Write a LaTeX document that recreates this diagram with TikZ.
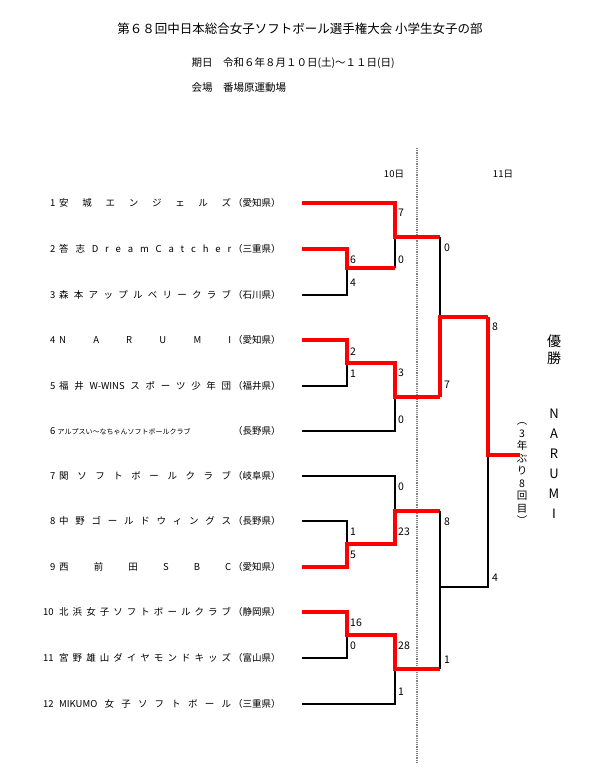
\documentclass[tikz,border=0pt]{standalone}
\usepackage{fontspec}
\setmainfont{Noto Sans CJK JP}
\usetikzlibrary{positioning,calc}
\tikzset{
  win/.style={red, line width=3.2pt},
  lose/.style={black, line width=1.3pt},
  score/.style={font=\fontsize{10.5}{10}\selectfont, inner sep=0pt, anchor=west},
  team/.style={font=\fontsize{9.5}{10}\selectfont, inner sep=0pt, anchor=west}
}
\newcommand{\teamrow}[5]{%
  \node[team] (num#1) at (#5,#2) {#1};
  \node[team] (name#1) at (59,#2) {\makebox[172pt][s]{#3}};
  \node[team] (pref#1) at (233,#2) {（#4）};
  \coordinate (end#1) at (302,#2);}
\begin{document}
\begin{tikzpicture}[x=1pt,y=-1pt]
\useasboundingbox (0,0) rectangle (600,773);
\node[font=\fontsize{12.5}{13}\selectfont] (title) at (300,29) {第６８回中日本総合女子ソフトボール選手権大会\ 小学生女子の部};
\node[font=\fontsize{10.5}{11}\selectfont, anchor=west] (date) at (188,63) {期日\quad 令和６年８月１０日(土)～１１日(日)};
\node[font=\fontsize{10.5}{11}\selectfont, anchor=west] (venue) at (188,88) {会場\quad 番場原運動場};
\node[font=\fontsize{9.5}{10}\selectfont] (day10) at (394,174) {10日};
\node[font=\fontsize{9.5}{10}\selectfont] (day11) at (503,174) {11日};
\draw[gray, densely dotted, line width=1.2pt] (417,148) -- (417,762);

\teamrow{1}{203}{安 城 エ ン ジ ェ ル ズ}{愛知県}{50}
\teamrow{2}{249}{答 志 D r e a m C a t c h e r}{三重県}{50}
\teamrow{3}{295}{森 本 ア ッ プ ル ベ リ ー ク ラ ブ}{石川県}{50}
\teamrow{4}{340}{N \ A \ R \ U \ M \ I}{愛知県}{50}
\teamrow{5}{386}{福 井 W-WINS ス ポ ー ツ 少 年 団}{福井県}{50}
\node[team] (num6) at (50,431) {6\ \fontsize{7}{8}\selectfont アルプスい〜なちゃんソフトボールクラブ};
\node[team] (pref6) at (233,431) {（長野県）};
\coordinate (end6) at (302,431);
\teamrow{7}{476}{関 ソ フ ト ボ ー ル ク ラ ブ}{岐阜県}{50}
\teamrow{8}{521}{中 野 ゴ ー ル ド ウ ィ ン グ ス}{長野県}{50}
\teamrow{9}{567}{西 \ 前 \ 田 \ S \ B \ C}{愛知県}{50}
\teamrow{10}{612}{北 浜 女 子 ソ フ ト ボ ー ル ク ラ ブ}{静岡県}{43}
\teamrow{11}{658}{宮 野 雄 山 ダ イ ヤ モ ン ド キ ッ ズ}{富山県}{43}
\teamrow{12}{704}{MIKUMO 女 子 ソ フ ト ボ ー ル}{三重県}{43}

% top block
\draw[lose] (end3) -| (347,268);
\draw[lose] (395,237) -- (395,268);
\draw[win] (end1) -| (395,237) -- (440,237);
\draw[win] (end2) -| (347,268) -- (395,268);
\draw[lose] (end5) -| (347,363);
\draw[lose] (end6) -| (395,397);
\draw[win] (end4) -| (347,363) -- (395,363) |- (440,397);
\draw[lose] (440,237) -- (440,317);
\draw[win] (440,397) |- (488,317);
% bottom block
\draw[lose] (end7) -| (395,511);
\draw[lose] (end8) -| (347,544);
\draw[win] (end9) -| (347,544) -- (395,544) |- (440,511);
\draw[lose] (end11) -| (347,635);
\draw[lose] (end12) -| (395,669);
\draw[win] (end10) -| (347,635) -- (395,635) |- (440,669);
\draw[lose] (440,511) |- (488,587) -- (488,455);
\draw[lose] (440,587) -- (440,669);
\draw[win] (488,317) |- (520,455);

% scores
\foreach \x/\y/\s in {398/213/7, 398/260/0, 350/260/6, 350/283/4, 350/352/2, 350/374/1,
  398/373/3, 398/420/0, 398/487/0, 350/532/1, 350/555/5, 398/532/23, 350/623/16,
  350/646/0, 398/646/28, 398/692/1, 444/248/0, 444/385/7, 444/522/8, 444/660/1,
  492/327/8, 492/578/4}
  \node[score] at (\x,\y) {\s};

% champion
\node[font=\fontsize{14}{17}\selectfont, align=center] (champ) at (554,350) {優\\勝};
\node[font=\fontsize{13}{20}\selectfont, align=center] (winner) at (554,464) {N\\A\\R\\U\\M\\I};
\node[font=\fontsize{10.5}{12.5}\selectfont, align=center] (note) at (522,474) {︵\\3\\年\\ぶ\\り\\8\\回\\目\\︶};
\end{tikzpicture}
\end{document}
